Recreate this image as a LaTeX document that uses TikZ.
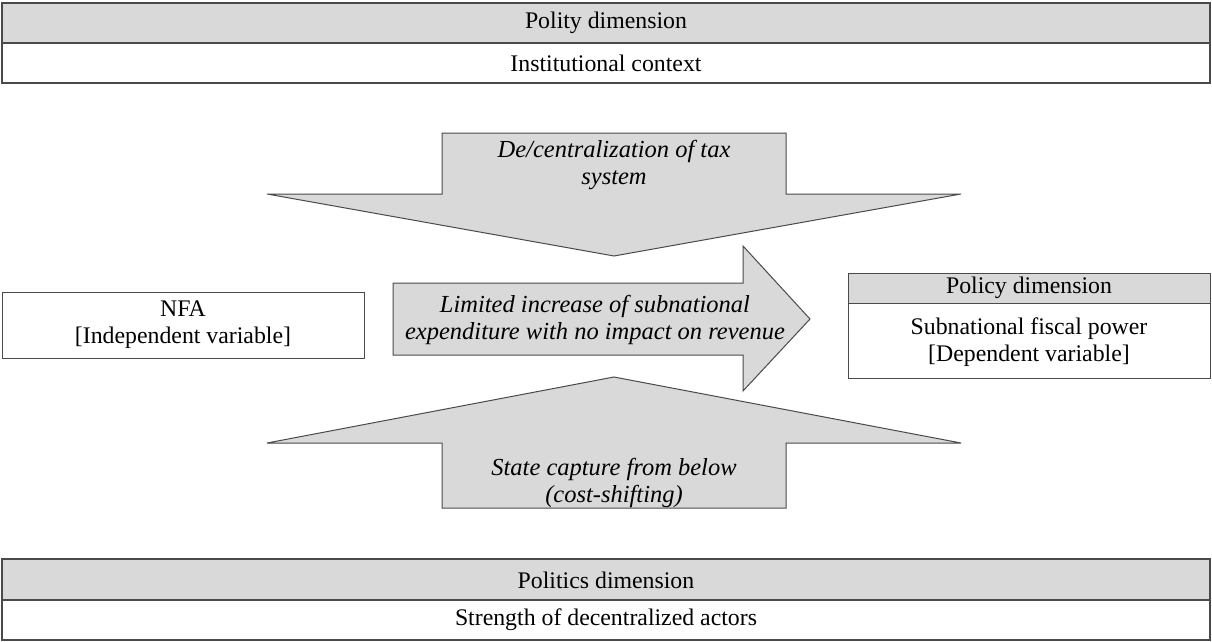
\documentclass[tikz,border=0pt]{standalone}
\usepackage{fontspec}
\setmainfont{Liberation Serif}
\definecolor{hdrgray}{HTML}{D9D9D9}
\definecolor{edgegray}{HTML}{4A4A4A}
\tikzset{
  hdr/.style={fill=hdrgray, draw=edgegray, line width=1.3pt},
  cell/.style={fill=white, draw=edgegray, line width=1.3pt},
  bigarrow/.style={fill=hdrgray, draw=edgegray, line width=1pt, line join=miter},
  lbl/.style={align=center, font=\fontsize{23.8}{27}\selectfont, inner sep=0pt},
  ilbl/.style={align=center, font=\fontsize{24.5}{27.5}\selectfont\itshape, inner sep=0pt}
}
\begin{document}
\begin{tikzpicture}[x=1pt,y=-1pt]
\useasboundingbox (0,0) rectangle (1212,642);
% top bar
\draw[hdr] (2,3) rectangle (1210,43);
\draw[cell] (2,43) rectangle (1210,83);
\node[lbl] (polity) at (606,23) {Polity dimension};
\node[lbl] (inst) at (606,63) {Institutional context};
% down arrow
\draw[bigarrow] (442,133) -- (786,133) -- (786,194) -- (961,194) -- (614,256) -- (267,194) -- (442,194) -- cycle;
\node[ilbl] (decent) at (614,165) {De/centralization of tax\\system};
% up arrow
\draw[bigarrow] (442,508) -- (786,508) -- (786,443) -- (961,443) -- (614,377) -- (267,443) -- (442,443) -- cycle;
\node[ilbl] (capture) at (614,483) {State capture from below\\(cost-shifting)};
% right arrow
\draw[bigarrow] (393,283) -- (743,283) -- (743,246) -- (810,319) -- (743,391) -- (743,355) -- (393,355) -- cycle;
\node[ilbl] (limited) at (595,320) {Limited increase of subnational\\expenditure with no impact on revenue};
% NFA box
\draw[cell, line width=1pt] (2,292) rectangle (364,358);
\node[lbl] (nfa) at (183,325) {NFA\\{}[Independent variable]};
% policy box
\draw[hdr, line width=1pt] (848,273) rectangle (1210,303);
\draw[cell, line width=1pt] (848,303) rectangle (1210,378);
\node[lbl] (policy) at (1029,288) {Policy dimension};
\node[lbl] (power) at (1029,342) {Subnational fiscal power\\{}[Dependent variable]};
% bottom bar
\draw[hdr] (2,559) rectangle (1210,600);
\draw[cell] (2,600) rectangle (1210,640);
\node[lbl] (politics) at (606,580) {Politics dimension};
\node[lbl] (strength) at (606,620) {Strength of decentralized actors};
\end{tikzpicture}
\end{document}
